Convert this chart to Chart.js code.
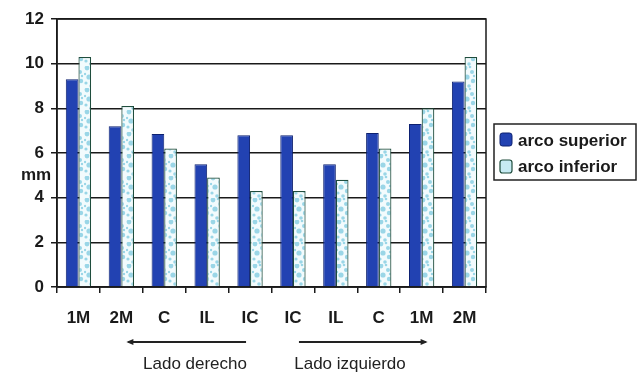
<!DOCTYPE html>
<html><head><meta charset="utf-8">
<script src="https://cdn.jsdelivr.net/npm/chart.js@4/dist/chart.umd.min.js"></script>
<style>html,body{margin:0;padding:0;background:#fff}#wrap{width:639px;height:372px}</style>
</head><body><div id="wrap"><canvas id="c" width="639" height="372"></canvas></div>
<script>
// Tooth positions along each arch, right side then left side
const teeth = ['1M', '2M', 'C', 'IL', 'IC', 'IC', 'IL', 'C', '1M', '2M'];
// Mean values in mm
const arcoSuperior = [9.3, 7.2, 6.85, 5.5, 6.8, 6.8, 5.5, 6.9, 7.3, 9.2];
const arcoInferior = [10.3, 8.1, 6.2, 4.9, 4.3, 4.3, 4.8, 6.2, 8.0, 10.3];
const seriesNames = ['arco superior', 'arco inferior'];
const sideLabels = ['Lado derecho', 'Lado izquierdo'];
const yTickValues = [0, 2, 4, 6, 8, 10, 12];
const yUnit = 'mm';

const FONT = '"Liberation Sans", Arial, sans-serif';
const canvas = document.getElementById('c');
const ctx = canvas.getContext('2d');

// light speckled fill for the lower-arch bars
function speckle() {
  const t = document.createElement('canvas');
  t.width = 14; t.height = 22;
  const g = t.getContext('2d');
  g.fillStyle = '#f2fbfd';
  g.fillRect(0, 0, 14, 22);
  g.fillStyle = '#9ad6e7';
  const dots = [[3,2,2.4],[10,6,2],[5,11,2.6],[11,15,2.2],[2,17,1.6],[8,1,1.3],[7,20,1.8],[12,10,1.2],[1,8,1.2]];
  dots.forEach(([x, y, r]) => { g.beginPath(); g.arc(x, y, r, 0, Math.PI * 2); g.fill(); });
  return ctx.createPattern(t, 'repeat');
}
const lowerFill = speckle();
const upperFill = '#2242b2';

const frame = {
  id: 'frame',
  beforeDatasetsDraw(chart) {
    const a = chart.chartArea, c = chart.ctx;
    c.save();
    c.strokeStyle = '#1a1a1a';
    c.lineWidth = 1.5;
    c.strokeRect(a.left, a.top, a.right - a.left, a.bottom - a.top);
    c.restore();
  },
  afterDraw(chart) {
    const c = chart.ctx, x = chart.scales.x;
    c.save();
    // unit label
    c.fillStyle = '#1a1a1a';
    c.font = 'bold 17px ' + FONT;
    c.textAlign = 'center';
    c.textBaseline = 'alphabetic';
    c.fillText(yUnit, 36, 180);

    // side arrows
    const ay = 342;
    const l0 = x.getPixelForValue(1) + 7, l1 = x.getPixelForValue(4) - 4;
    const r0 = x.getPixelForValue(5) + 6, r1 = x.getPixelForValue(8) + 4;
    c.strokeStyle = '#222';
    c.fillStyle = '#222';
    c.lineWidth = 2;
    c.beginPath(); c.moveTo(l0, ay); c.lineTo(l1, ay); c.stroke();
    c.beginPath(); c.moveTo(r0, ay); c.lineTo(r1, ay); c.stroke();
    c.beginPath(); c.moveTo(l0 - 2, ay); c.lineTo(l0 + 5, ay - 3); c.lineTo(l0 + 5, ay + 3); c.closePath(); c.fill();
    c.beginPath(); c.moveTo(r1 + 2, ay); c.lineTo(r1 - 5, ay - 3); c.lineTo(r1 - 5, ay + 3); c.closePath(); c.fill();

    c.font = '17px ' + FONT;
    c.fillStyle = '#222';
    c.fillText(sideLabels[0], 195, 369);
    c.fillText(sideLabels[1], 350, 369);

    // legend
    c.strokeStyle = '#222';
    c.lineWidth = 1.5;
    c.strokeRect(494, 124, 142, 56);
    const rr = (px, py, w, h, r) => {
      c.beginPath();
      c.moveTo(px + r, py); c.lineTo(px + w - r, py); c.quadraticCurveTo(px + w, py, px + w, py + r);
      c.lineTo(px + w, py + h - r); c.quadraticCurveTo(px + w, py + h, px + w - r, py + h);
      c.lineTo(px + r, py + h); c.quadraticCurveTo(px, py + h, px, py + h - r);
      c.lineTo(px, py + r); c.quadraticCurveTo(px, py, px + r, py); c.closePath();
    };
    rr(500, 133, 12, 13, 2.5);
    c.fillStyle = upperFill; c.fill();
    c.strokeStyle = '#0d2170'; c.lineWidth = 1; c.stroke();
    rr(500, 160, 12, 13, 2.5);
    c.fillStyle = '#c6ebf3'; c.fill();
    c.strokeStyle = '#1f4d3d'; c.lineWidth = 1.2; c.stroke();
    c.font = 'bold 17px ' + FONT;
    c.fillStyle = '#1a1a1a';
    c.textAlign = 'left';
    c.fillText(seriesNames[0], 518, 146);
    c.fillText(seriesNames[1], 518, 172);
    c.restore();
  }
};

new Chart(canvas, {
  type: 'bar',
  data: {
    labels: teeth,
    datasets: [
      { label: seriesNames[0], data: arcoSuperior, backgroundColor: upperFill, borderColor: '#0d2170', borderWidth: 1 },
      { label: seriesNames[1], data: arcoInferior, backgroundColor: lowerFill, borderColor: '#1f4d3d', borderWidth: 1.2 }
    ]
  },
  options: {
    responsive: false,
    animation: false,
    devicePixelRatio: 1,
    layout: { padding: { top: 19, right: 153, left: 0, bottom: 0 } },
    datasets: { bar: { categoryPercentage: 0.59, barPercentage: 1.0 } },
    plugins: { legend: { display: false }, tooltip: { enabled: false } },
    scales: {
      x: {
        afterFit(s) { s.height = 85; },
        grid: { display: true, drawOnChartArea: false, drawTicks: true, tickLength: 6, color: '#1a1a1a', lineWidth: 1.5, offset: true },
        border: { display: true, color: '#1a1a1a', width: 1.5 },
        ticks: { color: '#1a1a1a', font: { family: FONT, size: 17, weight: 'bold' }, padding: 15, maxRotation: 0, autoSkip: false }
      },
      y: {
        min: 0, max: 12,
        afterFit(s) { s.width = 57; },
        afterBuildTicks(s) { s.ticks = yTickValues.map(v => ({ value: v })); },
        grid: { color: '#1a1a1a', lineWidth: 1.5, tickLength: 6, drawTicks: true },
        border: { display: true, color: '#1a1a1a', width: 1.5 },
        ticks: { color: '#1a1a1a', font: { family: FONT, size: 17, weight: 'bold' }, padding: 7 }
      }
    }
  },
  plugins: [frame]
});
</script></body></html>
